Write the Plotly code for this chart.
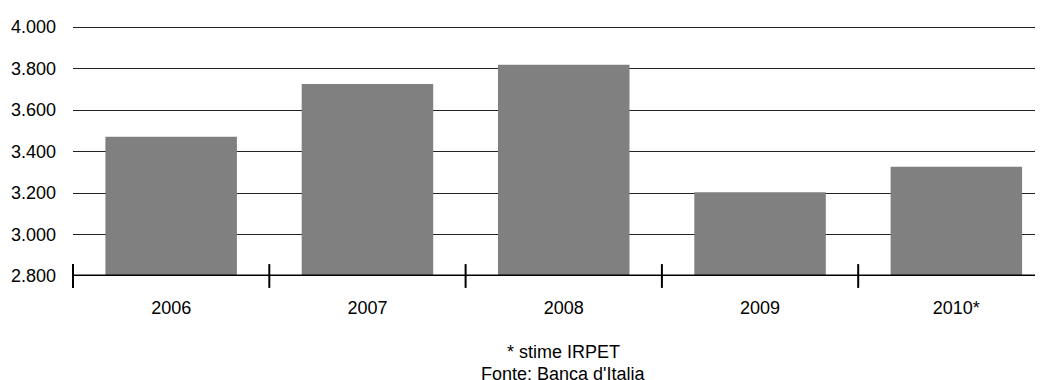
import plotly.graph_objects as go

categories = ["2006", "2007", "2008", "2009", "2010*"]
values = [3471, 3726, 3818, 3204, 3327]
y_ticks = [2800, 3000, 3200, 3400, 3600, 3800, 4000]
y_tick_labels = ["2.800", "3.000", "3.200", "3.400", "3.600", "3.800", "4.000"]

FONT = "Liberation Sans Narrow, Arial Narrow, Liberation Sans, Arial, sans-serif"

# category boundaries (between bars), derived from the category count
boundaries = [i - 0.5 for i in range(len(categories) + 1)]

fig = go.Figure()
fig.add_trace(go.Bar(x=categories, y=values, marker=dict(color="#808080", line=dict(width=0)),
                     showlegend=False, hoverinfo="skip"))
# crossing tick marks at category boundaries
fig.add_trace(go.Scatter(x=boundaries, y=[y_ticks[0]] * len(boundaries), xaxis="x2",
                         mode="markers", cliponaxis=False,
                         marker=dict(symbol="line-ns", size=17, line=dict(color="black", width=2)),
                         showlegend=False, hoverinfo="skip"))

xr = [-0.5, 4.5 - (1054.5 - 1043) / 196.3]
fig.update_layout(
    width=1035, height=372,
    margin=dict(l=65, r=0, t=17, b=104),
    paper_bgcolor="white", plot_bgcolor="white",
    bargap=0.33,
    font=dict(family=FONT, size=18, color="#000000"),
    xaxis=dict(type="category", range=xr, ticks="", showgrid=False,
               showline=False, zeroline=False, ticklabelstandoff=19,
               tickfont=dict(family=FONT, size=18)),
    xaxis2=dict(type="linear", range=xr, overlaying="x", anchor="y", side="bottom",
                showticklabels=False, showgrid=False, ticks="",
                showline=False, zeroline=False),
    yaxis=dict(range=[2800, 4010], tickvals=y_ticks, ticktext=y_tick_labels,
               showgrid=True, gridcolor="#222222", gridwidth=1, zeroline=False,
               showline=False, ticks="", ticklabelstandoff=16,
               tickfont=dict(family=FONT, size=18)),
    shapes=[dict(type="line", xref="paper", yref="y", x0=0, x1=1, y0=2800, y1=2800,
                 line=dict(color="black", width=3), layer="above")],
    annotations=[
        dict(text="* stime IRPET", xref="paper", yref="paper", x=(563.5 - 73) / 970, y=-0.303,
             showarrow=False, xanchor="center", yanchor="middle", font=dict(family=FONT, size=18)),
        dict(text="Fonte: Banca d'Italia", xref="paper", yref="paper", x=(563.5 - 73) / 970, y=-0.39,
             showarrow=False, xanchor="center", yanchor="middle", font=dict(family=FONT, size=18)),
    ],
)
fig.write_html("out.html")
